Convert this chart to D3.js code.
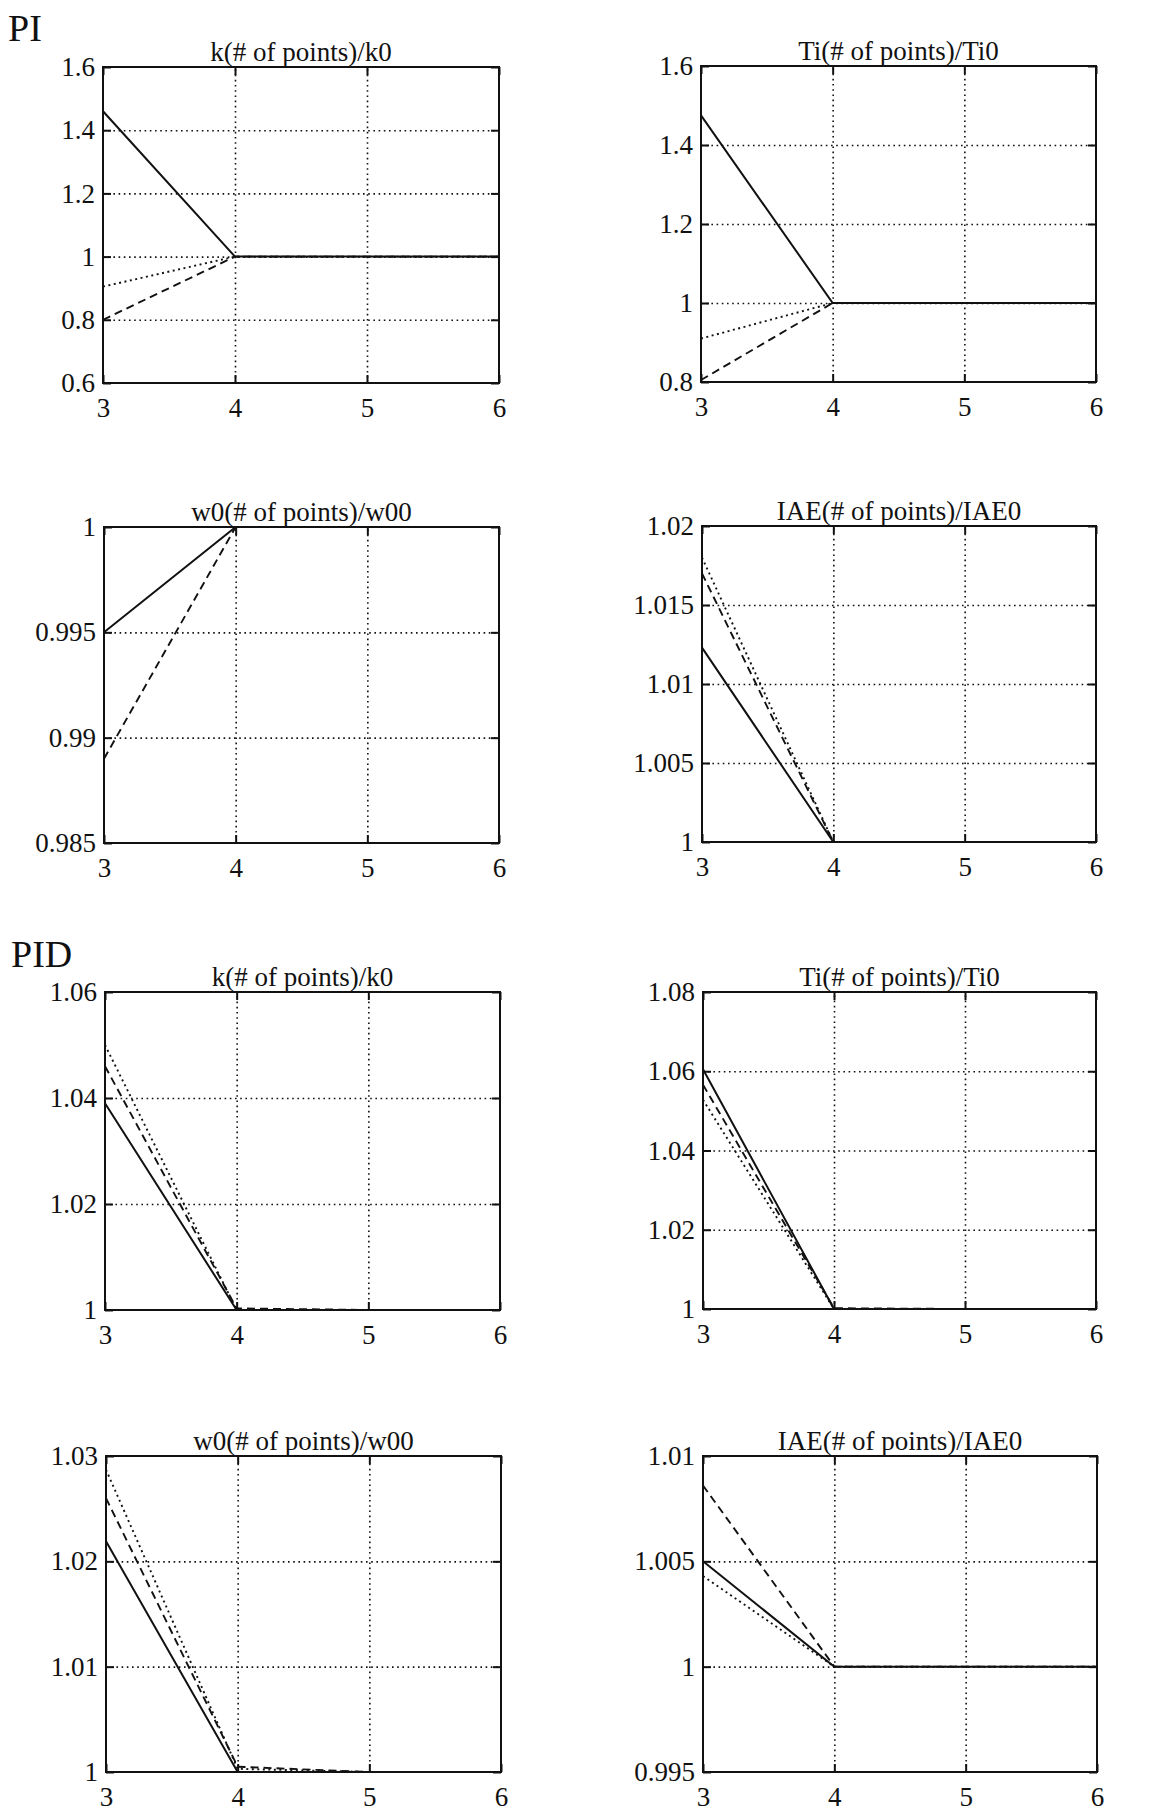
<!DOCTYPE html>
<html>
<head>
<meta charset="utf-8">
<script src="https://cdn.jsdelivr.net/npm/d3@7"></script>
<style>
  html, body { margin: 0; padding: 0; background: #fff; }
  svg { display: block; }
</style>
</head>
<body>
<svg id="chart" width="1168" height="1811"></svg>
<script>
// ---------------- DATA ----------------
const xPoints = [3, 4, 5, 6];
const xTickLabels = ["3", "4", "5", "6"];
const sectionLabels = ["PI", "PID"];
const panelTitles = [
  "k(# of points)/k0", "Ti(# of points)/Ti0",
  "w0(# of points)/w00", "IAE(# of points)/IAE0",
  "k(# of points)/k0", "Ti(# of points)/Ti0",
  "w0(# of points)/w00", "IAE(# of points)/IAE0"
];

// y ticks per panel
const yTicksPiK   = [0.6, 0.8, 1, 1.2, 1.4, 1.6];
const yTicksPiTi  = [0.8, 1, 1.2, 1.4, 1.6];
const yTicksPiW0  = [0.985, 0.99, 0.995, 1];
const yTicksPiIAE = [1, 1.005, 1.01, 1.015, 1.02];
const yTicksPidK   = [1, 1.02, 1.04, 1.06];
const yTicksPidTi  = [1, 1.02, 1.04, 1.06, 1.08];
const yTicksPidW0  = [1, 1.01, 1.02, 1.03];
const yTicksPidIAE = [0.995, 1, 1.005, 1.01];

// series values (solid / dashed / dotted) at 3,4,5,6 points
const piK_solid  = [1.46, 1, 1, 1];
const piK_dashed = [0.80, 1, 1, 1];
const piK_dotted = [0.905, 1, 1, 1];

const piTi_solid  = [1.475, 1, 1, 1];
const piTi_dashed = [0.805, 1, 1, 1];
const piTi_dotted = [0.91, 1, 1, 1];

const piW0_solid  = [0.995, 1, 1, 1];
const piW0_dashed = [0.989, 1, 1, 1];
const piW0_dotted = [1, 1, 1, 1];

const piIAE_solid  = [1.0123, 1, 1, 1];
const piIAE_dashed = [1.017, 1, 1, 1];
const piIAE_dotted = [1.018, 1, 1, 1];

const pidK_solid  = [1.039, 1, 1, 1];
const pidK_dashed = [1.046, 1.0003, 1, 1];
const pidK_dotted = [1.050, 1, 1, 1];

const pidTi_solid  = [1.0605, 1, 1, 1];
const pidTi_dashed = [1.0566, 1.0002, 1, 1];
const pidTi_dotted = [1.0528, 1, 1, 1];

const pidW0_solid  = [1.0219, 1, 1, 1];
const pidW0_dashed = [1.026, 1.0005, 1, 1];
const pidW0_dotted = [1.0287, 1.0003, 1, 1];

const pidIAE_solid  = [1.005, 1, 1, 1];
const pidIAE_dashed = [1.0086, 1, 1, 1];
const pidIAE_dotted = [1.0043, 1, 1, 1];

// ---------------- LAYOUT ----------------
const rects = [
  {l: 103, r: 499, t: 67, b: 383},
  {l: 701, r: 1096, t: 66, b: 382},
  {l: 104, r: 499, t: 527, b: 843},
  {l: 702, r: 1096, t: 526, b: 842},
  {l: 105, r: 500, t: 992, b: 1310},
  {l: 703, r: 1096, t: 992, b: 1309},
  {l: 106, r: 501, t: 1456, b: 1772},
  {l: 703, r: 1097, t: 1456, b: 1772}
];
const yTickSets = [yTicksPiK, yTicksPiTi, yTicksPiW0, yTicksPiIAE,
                   yTicksPidK, yTicksPidTi, yTicksPidW0, yTicksPidIAE];
const seriesSets = [
  [piK_solid, piK_dashed, piK_dotted],
  [piTi_solid, piTi_dashed, piTi_dotted],
  [piW0_solid, piW0_dashed, piW0_dotted],
  [piIAE_solid, piIAE_dashed, piIAE_dotted],
  [pidK_solid, pidK_dashed, pidK_dotted],
  [pidTi_solid, pidTi_dashed, pidTi_dotted],
  [pidW0_solid, pidW0_dashed, pidW0_dotted],
  [pidIAE_solid, pidIAE_dashed, pidIAE_dotted]
];
const styles = [
  {dash: null, w: 2},
  {dash: "8,5", w: 1.9},
  {dash: "2,3.5", w: 1.9}
];

const svg = d3.select("#chart");
const FONT = "'Liberation Serif', 'Times New Roman', serif";
const fontSize = 27;
const titleSize = 27;
const ink = "#111";

svg.append("text").attr("x", 8).attr("y", 41)
  .style("font-family", FONT).style("font-size", "38px").style("fill", ink)
  .text(sectionLabels[0]);
svg.append("text").attr("x", 11).attr("y", 967)
  .style("font-family", FONT).style("font-size", "38px").style("fill", ink)
  .text(sectionLabels[1]);

rects.forEach((R, i) => {
  const yt = yTickSets[i];
  const x = d3.scaleLinear().domain([xPoints[0], xPoints[xPoints.length - 1]]).range([R.l, R.r]);
  const y = d3.scaleLinear().domain([yt[0], yt[yt.length - 1]]).range([R.b, R.t]);
  const g = svg.append("g");
  const W = R.r - R.l, H = R.b - R.t;

  // gridlines (interior only)
  const gy = g.append("g").attr("transform", `translate(${R.l},0)`)
    .call(d3.axisLeft(y).tickValues(yt.slice(1, -1)).tickSize(-W).tickFormat(""));
  gy.select(".domain").remove();
  gy.selectAll(".tick line").attr("stroke", ink).attr("stroke-width", 1.6)
    .attr("stroke-dasharray", "1.6,3.6");
  const gx = g.append("g").attr("transform", `translate(0,${R.b})`)
    .call(d3.axisBottom(x).tickValues(xPoints.slice(1, -1)).tickSize(-H).tickFormat(""));
  gx.select(".domain").remove();
  gx.selectAll(".tick line").attr("stroke", ink).attr("stroke-width", 1.6)
    .attr("stroke-dasharray", "1.6,3.6");

  // series
  const line = d3.line().x((d, j) => x(xPoints[j])).y(d => y(d));
  seriesSets[i].forEach((vals, k) => {
    g.append("path").datum(vals).attr("d", line)
      .attr("fill", "none").attr("stroke", ink)
      .attr("stroke-width", styles[k].w)
      .attr("stroke-dasharray", styles[k].dash);
  });

  // frame
  g.append("rect").attr("x", R.l).attr("y", R.t).attr("width", W).attr("height", H)
    .attr("fill", "none").attr("stroke", ink).attr("stroke-width", 2);

  // axes with inward ticks
  const ax = g.append("g").attr("transform", `translate(${R.l},0)`)
    .call(d3.axisLeft(y).tickValues(yt).tickSize(-8).tickPadding(8).tickFormat(d => String(+d)));
  ax.select(".domain").remove();
  ax.selectAll("line").attr("stroke", ink).attr("stroke-width", 2);
  ax.selectAll("text").style("font-size", fontSize + "px").style("font-family", FONT).style("fill", ink);

  const ar = g.append("g").attr("transform", `translate(${R.r},0)`)
    .call(d3.axisRight(y).tickValues(yt).tickSize(-8).tickFormat(""));
  ar.select(".domain").remove();
  ar.selectAll("line").attr("stroke", ink).attr("stroke-width", 2);

  const bx = g.append("g").attr("transform", `translate(0,${R.b})`)
    .call(d3.axisBottom(x).tickValues(xPoints).tickSize(-8).tickPadding(15)
      .tickFormat((d, j) => xTickLabels[j]));
  bx.select(".domain").remove();
  bx.selectAll("line").attr("stroke", ink).attr("stroke-width", 2);
  bx.selectAll("text").style("font-size", fontSize + "px").style("font-family", FONT).style("fill", ink);

  const tx = g.append("g").attr("transform", `translate(0,${R.t})`)
    .call(d3.axisTop(x).tickValues(xPoints).tickSize(-8).tickFormat(""));
  tx.select(".domain").remove();
  tx.selectAll("line").attr("stroke", ink).attr("stroke-width", 2);

  // title
  g.append("text").attr("x", (R.l + R.r) / 2).attr("y", R.t - 6)
    .attr("text-anchor", "middle")
    .style("font-family", FONT).style("font-size", titleSize + "px").style("fill", ink)
    .text(panelTitles[i]);
});
</script>
</body>
</html>
